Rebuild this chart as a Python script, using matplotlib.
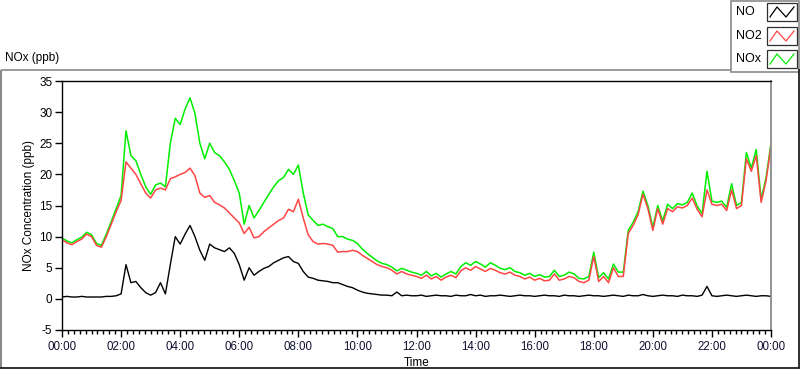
import matplotlib
matplotlib.use("Agg")
import matplotlib.pyplot as plt
import numpy as np

# ---- data (10-minute samples, 00:00 .. 24:00) ----
minutes_step = 10
no2 = [9.5, 9.0, 8.7, 9.2, 9.6, 10.4, 10.0, 8.6, 8.3, 10.0, 12.0, 14.0,
       15.8, 22.0, 21.0, 20.0, 18.5, 17.0, 16.2, 17.5, 17.8, 17.5, 19.3, 19.6,
       20.0, 20.3, 21.0, 19.8, 17.0, 16.3, 16.6, 15.5, 15.1, 14.6, 13.8, 13.0,
       12.2, 10.5, 11.5, 9.8, 10.0, 10.8, 11.4, 12.0, 12.6, 13.0, 14.4, 14.0,
       16.0, 13.0, 10.3, 9.2, 8.8, 8.9, 8.8, 8.6, 7.5, 7.6, 7.6, 7.8,
       7.6, 7.0, 6.5, 6.0, 5.5, 5.2, 5.0, 4.6, 4.0, 4.4, 4.0, 3.8,
       3.6, 3.3, 3.8, 3.2, 3.6, 3.0, 3.5, 3.8, 3.4, 4.5, 5.0, 4.6,
       5.2, 4.8, 4.4, 4.9, 4.6, 4.2, 4.0, 4.3, 3.8, 3.6, 3.2, 3.5,
       3.0, 3.3, 2.9, 3.0, 4.0, 3.0, 3.2, 3.6, 3.4, 2.8, 2.6, 3.0,
       6.8, 2.8, 3.6, 2.6, 5.0, 3.6, 3.6, 10.5, 11.8, 13.5, 16.8, 14.5,
       11.0, 14.5, 12.0, 14.5, 14.0, 14.8, 14.6, 15.0, 16.2, 14.4, 13.2, 17.5,
       15.2, 15.0, 15.2, 14.2, 17.5, 14.5, 15.0, 22.5, 20.5, 23.0, 15.5, 19.0,
       24.5]
nox = [9.8, 9.3, 9.0, 9.5, 9.9, 10.7, 10.3, 8.9, 8.6, 10.4, 12.4, 14.5,
       16.6, 27.0, 23.0, 22.2, 20.0, 18.0, 16.8, 18.3, 18.6, 18.0, 25.0, 29.0,
       28.0, 30.5, 32.3, 29.8, 25.0, 22.5, 25.0, 23.5, 23.0, 22.0, 20.8, 19.0,
       17.0, 12.0, 15.0, 13.0, 14.2, 15.5, 16.8, 18.0, 19.0, 19.5, 20.8, 20.0,
       21.5, 17.0, 13.5, 12.6, 11.8, 12.0, 11.6, 11.3, 10.0, 10.0, 9.6, 9.4,
       8.9, 8.0, 7.3, 6.7, 6.1, 5.7, 5.5, 5.1, 4.5, 4.9, 4.6, 4.3,
       4.1, 3.8, 4.4, 3.7, 4.1, 3.5, 4.0, 4.4, 4.0, 5.2, 5.8, 5.4,
       6.0, 5.6, 5.1, 5.8, 5.4, 4.9, 4.7, 5.0, 4.4, 4.2, 3.8, 4.1,
       3.6, 3.9, 3.5, 3.6, 4.6, 3.6, 3.8, 4.3, 4.0, 3.3, 3.2, 3.6,
       7.5, 3.4, 4.2, 3.2, 5.6, 4.3, 4.3, 11.0, 12.3, 14.0, 17.3, 15.0,
       11.5, 15.0, 12.5, 15.2, 14.5, 15.3, 15.1, 15.5, 17.0, 14.9, 13.7, 20.5,
       15.7, 15.5, 15.7, 14.7, 18.5, 15.0, 15.5, 23.5, 21.0, 24.0, 16.0, 19.5,
       25.0]
no = [0.3, 0.4, 0.3, 0.3, 0.4, 0.3, 0.3, 0.3, 0.3, 0.4, 0.4, 0.5,
      0.8, 5.5, 2.6, 2.8, 1.8, 1.0, 0.6, 1.0, 2.6, 0.8, 5.5, 10.0,
      8.8, 10.4, 11.8, 10.0, 7.8, 6.2, 8.8, 8.2, 7.9, 7.6, 8.2, 7.3,
      5.5, 3.0, 5.0, 3.8, 4.4, 4.9, 5.2, 5.8, 6.2, 6.6, 6.8, 6.0,
      5.7, 4.4, 3.5, 3.3, 3.0, 2.9, 2.8, 2.6, 2.6, 2.3, 2.0, 1.8,
      1.4, 1.1, 0.9, 0.8, 0.7, 0.6, 0.6, 0.5, 1.1, 0.5, 0.6, 0.5,
      0.5, 0.6, 0.4, 0.5, 0.6, 0.5, 0.5, 0.4, 0.6, 0.5, 0.5, 0.7,
      0.5, 0.6, 0.4, 0.5, 0.5, 0.6, 0.5, 0.4, 0.5, 0.6, 0.5, 0.5,
      0.4, 0.5, 0.6, 0.5, 0.5, 0.4, 0.6, 0.5, 0.5, 0.4, 0.5, 0.6,
      0.5, 0.5, 0.4, 0.5, 0.6, 0.5, 0.4, 0.6, 0.5, 0.5, 0.7, 0.5,
      0.4, 0.5, 0.6, 0.5, 0.5, 0.4, 0.6, 0.5, 0.5, 0.4, 0.6, 2.0,
      0.5, 0.4, 0.5, 0.6, 0.5, 0.4, 0.5, 0.6, 0.5, 0.4, 0.5, 0.5,
      0.4]
x_tick_hours = list(range(0, 25, 2))
x_tick_labels = ["00:00", "02:00", "04:00", "06:00", "08:00", "10:00", "12:00",
                 "14:00", "16:00", "18:00", "20:00", "22:00", "00:00"]
y_ticks = [-5, 0, 5, 10, 15, 20, 25, 30, 35]
series_names = ["NO", "NO2", "NOx"]

FONT = "Liberation Sans"
plt.rcParams["font.family"] = [FONT, "DejaVu Sans"]

W, H = 800, 369
fig = plt.figure(figsize=(W / 100, H / 100), dpi=100)
fig.patch.set_facecolor("white")

# overlay for frame and legend, in pixel coords
ov = fig.add_axes([0, 0, 1, 1], zorder=0)
ov.set_xlim(0, W)
ov.set_ylim(H, 0)
ov.axis("off")
grey = "#8a8a8a"
ov.plot([0.5, 730.5], [69.5, 69.5], color=grey, lw=1.2, solid_capstyle="butt")
ov.plot([0.5, 0.5], [69.5, 368], color=grey, lw=1.5, solid_capstyle="butt")
ov.plot([0, 800], [367.5, 367.5], color="#202020", lw=1.3, solid_capstyle="butt")
ov.plot([799.3, 799.3], [69, 368], color="#202020", lw=1.3, solid_capstyle="butt")
# legend box
ov.add_patch(plt.Rectangle((730.5, 0.5), 68.5, 71, facecolor="white",
                           edgecolor=grey, lw=1.2))
ov.text(5, 58, "NOx (ppb)", fontsize=8.5, va="center", ha="left")
colors = {"NO": "#000000", "NO2": "#ff4545", "NOx": "#00ee00"}
leg_y = [12, 36, 59]
for name, yc in zip(series_names, leg_y):
    ov.text(736, yc, name, fontsize=9, va="center", ha="left")
    x0, x1 = 767, 797
    y0, y1 = yc - 9, yc + 9
    ov.add_patch(plt.Rectangle((x0, y0), x1 - x0, y1 - y0, facecolor="white",
                               edgecolor="#303030", lw=0.9))
    zx = [x0 + 3, x0 + 10, x0 + 19, x0 + 27]
    zy = [y1 - 4, y0 + 4, y1 - 4, y0 + 4]
    ov.plot(zx, zy, color=colors[name], lw=0.9)

# main plot
left, right = 62 / W, 771 / W
top, bottom = 1 - 81 / H, 1 - 330 / H
ax = fig.add_axes([left, bottom, right - left, top - bottom], zorder=2)
t = np.arange(len(no2)) * minutes_step / 60.0
ax.plot(t, nox, color=colors["NOx"], lw=1.1)
ax.plot(t, no2, color=colors["NO2"], lw=1.1)
ax.plot(t, no, color=colors["NO"], lw=1.0)

ax.set_xlim(0, 24)
ax.set_ylim(-5, 35)
ax.set_xticks(x_tick_hours)
ax.set_xticklabels(x_tick_labels, fontsize=8.3, color="#101030")
ax.set_xticks(np.arange(0, 24.01, 0.2), minor=True)
ax.set_yticks(y_ticks)
ax.set_yticklabels([str(v) for v in y_ticks], fontsize=8.5)
ax.tick_params(axis="x", which="major", length=5, width=1, direction="out", pad=3)
ax.tick_params(axis="x", which="minor", length=3, width=1, direction="out")
ax.tick_params(axis="y", which="major", length=5, width=1, direction="out", pad=2)
for s in ["left", "bottom", "top"]:
    ax.spines[s].set_color("black")
    ax.spines[s].set_linewidth(1)
ax.spines["right"].set_color("#8a8a8a")
ax.spines["right"].set_linewidth(1.3)
ax.set_xlabel("Time", fontsize=8.5, labelpad=3)
ax.set_ylabel("NOx Concentration (ppb)", fontsize=8.5, labelpad=3)

fig.savefig("out.png", dpi=100, facecolor="white")
